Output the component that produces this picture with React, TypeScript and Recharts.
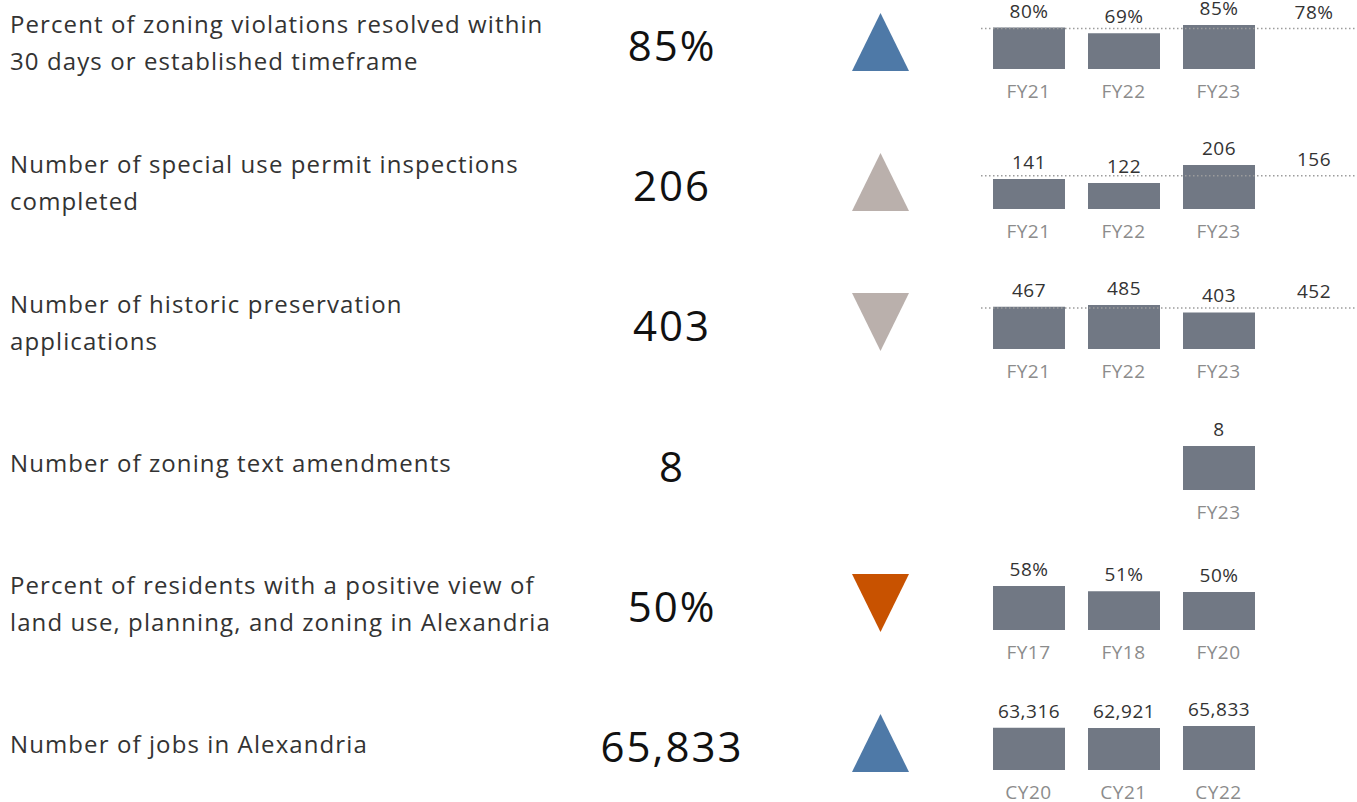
import { BarChart, Bar, XAxis, YAxis, Cell, LabelList, ReferenceLine } from 'recharts';

const labels = [
  ['Percent of zoning violations resolved within', '30 days or established timeframe'],
  ['Number of special use permit inspections', 'completed'],
  ['Number of historic preservation', 'applications'],
  ['Number of zoning text amendments'],
  ['Percent of residents with a positive view of', 'land use, planning, and zoning in Alexandria'],
  ['Number of jobs in Alexandria'],
];

const periods = [
  ['FY21', 'FY22', 'FY23'],
  ['FY21', 'FY22', 'FY23'],
  ['FY21', 'FY22', 'FY23'],
  ['FY21', 'FY22', 'FY23'],
  ['FY17', 'FY18', 'FY20'],
  ['CY20', 'CY21', 'CY22'],
];

const values: (number | null)[][] = [
  [80, 69, 85],
  [141, 122, 206],
  [467, 485, 403],
  [null, null, 8],
  [58, 51, 50],
  [63316, 62921, 65833],
];

const targets: (number | null)[] = [78, 156, 452, null, null, null];
const units = ['%', '', '', '', '%', ''];
const trends: ('up' | 'down' | null)[] = ['up', 'up', 'down', null, 'down', 'up'];
const trendColors = ['#4e79a7', '#bab0ac', '#bab0ac', null, '#c85200', '#4e79a7'];

const FONT = '"Open Sans", sans-serif';
const ROW_H = 140.2;
const BAR_COLOR = '#717884';

const fmt = (v: number | null, unit: string) =>
  v == null ? '' : v.toLocaleString('en-US') + unit;

function Triangle({ dir, color }: { dir: 'up' | 'down'; color: string }) {
  const pts = dir === 'up' ? '28.5,0 57,58 0,58' : '0,0 57,0 28.5,58';
  return (
    <svg width={57} height={58}>
      <polygon points={pts} fill={color} />
    </svg>
  );
}

function MiniBars({ row }: { row: number }) {
  const unit = units[row];
  const target = targets[row];
  const data = periods[row].map((p, j) => ({ period: p, value: values[row][j], kind: 'actual' }));
  data.push({ period: target == null ? ' ' : 'Target', value: target, kind: 'target' });
  const shown = new Set(data.filter((d) => d.kind === 'actual' && d.value != null).map((d) => d.period));

  return (
    <BarChart
      width={380}
      height={125}
      data={data}
      margin={{ top: 40, right: 0, bottom: 0, left: 0 }}
    >
      <XAxis
        dataKey="period"
        axisLine={false}
        tickLine={false}
        height={41}
        tickMargin={10}
        interval={0}
        tick={{ fill: '#8c8c8c', fontSize: 19, fontFamily: FONT, letterSpacing: 0.5 }}
        tickFormatter={(t: string) => (shown.has(t) ? t : '')}
      />
      <YAxis hide domain={[0, 'dataMax']} />
      {target != null && (
        <ReferenceLine y={target} stroke="#9c9c9c" strokeWidth={1.5} strokeDasharray="1.5 2.5" />
      )}
      <Bar dataKey="value" barSize={72} isAnimationActive={false}>
        {data.map((d, j) => (
          <Cell key={j} fill={d.kind === 'actual' ? BAR_COLOR : 'transparent'} />
        ))}
        <LabelList
          dataKey="value"
          position="top"
          offset={10}
          fill="#333"
          fontSize={19}
          fontFamily={FONT}
          letterSpacing={0.5}
          formatter={(v: number | null) => fmt(v, unit)}
        />
      </Bar>
    </BarChart>
  );
}

export default function App() {
  return (
    <div
      style={{
        position: 'absolute',
        left: 0,
        top: 0,
        width: 1357,
        height: 802,
        overflow: 'hidden',
        background: '#fff',
        fontFamily: FONT,
      }}
    >
      {labels.map((lines, i) => {
        const y0 = i * ROW_H;
        const last = values[i][values[i].length - 1];
        const dir = trends[i];
        return (
          <div key={i}>
            <div
              style={{
                position: 'absolute',
                left: 10,
                top: y0 + 42 - (lines.length * 37) / 2,
                fontSize: 24,
                letterSpacing: 1.1,
                lineHeight: '37px',
                color: '#333',
                whiteSpace: 'nowrap',
              }}
            >
              {lines.map((l, k) => (
                <div key={k}>{l}</div>
              ))}
            </div>
            <div
              style={{
                position: 'absolute',
                left: 572,
                width: 200,
                top: y0 + 45 - 30,
                height: 60,
                lineHeight: '60px',
                textAlign: 'center',
                fontSize: 42,
                letterSpacing: 2,
                color: '#111',
              }}
            >
              {fmt(last, units[i])}
            </div>
            {dir && (
              <div style={{ position: 'absolute', left: 852, top: y0 + 13 }}>
                <Triangle dir={dir} color={trendColors[i] as string} />
              </div>
            )}
            <div style={{ position: 'absolute', left: 981, top: y0 - 15 }}>
              <MiniBars row={i} />
            </div>
          </div>
        );
      })}
    </div>
  );
}
